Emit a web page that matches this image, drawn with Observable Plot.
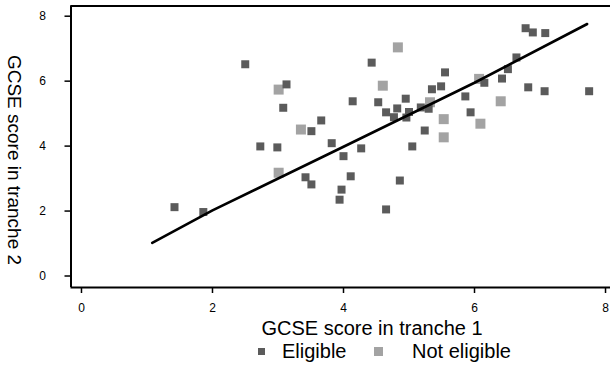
<!DOCTYPE html>
<html>
<head>
<meta charset="utf-8">
<script src="https://cdn.jsdelivr.net/npm/d3@7"></script>
<script src="https://cdn.jsdelivr.net/npm/@observablehq/plot@0.6"></script>
<style>
  html, body { margin: 0; padding: 0; background: #fff; }
  #chart { position: relative; width: 610px; height: 365px; font-family: "Liberation Sans", Arial, sans-serif; }
  #legend { position: relative; height: 27px; }
  #legend .sw { position: absolute; }
  #legend .lb { position: absolute; font-size: 20px; color: #000; line-height: 20px; }
</style>
</head>
<body>
<div id="chart"></div>
<script>
// ---- data ----
const xTicks = [0, 2, 4, 6, 8];
const yTicks = [0, 2, 4, 6, 8];
const xLabel = "GCSE score in tranche 1";
const yLabel = "GCSE score in tranche 2";
const categories = ["Eligible", "Not eligible"];

const eligibleX = [1.42, 1.86, 2.50, 2.73, 2.99, 3.13, 3.08, 3.42, 3.51, 3.51, 3.66, 3.82, 4.00, 3.97, 3.94, 4.11,
  4.14, 4.27, 4.43, 4.53, 4.65, 4.82, 4.95, 4.77, 5.00, 4.96, 5.18, 5.30, 5.35, 5.49, 5.55, 5.24, 5.05, 4.86,
  4.65, 5.86, 5.94, 6.15, 6.42, 6.51, 6.64, 6.82, 7.07, 7.75, 6.78, 6.89, 7.08];
const eligibleY = [2.12, 1.97, 6.52, 3.99, 3.96, 5.90, 5.18, 3.04, 2.82, 4.46, 4.79, 4.09, 3.69, 2.66, 2.35, 3.07,
  5.38, 3.93, 6.57, 5.35, 5.04, 5.16, 5.46, 4.89, 5.05, 4.88, 5.19, 5.15, 5.75, 5.84, 6.27, 4.48, 3.99, 2.94,
  2.05, 5.53, 5.04, 5.95, 6.08, 6.37, 6.73, 5.81, 5.69, 5.69, 7.63, 7.50, 7.48];

const notEligibleX = [3.01, 3.35, 3.01, 4.60, 4.83, 5.32, 5.53, 5.53, 6.07, 6.09, 6.40];
const notEligibleY = [5.74, 4.51, 3.18, 5.86, 7.04, 5.35, 4.83, 4.27, 6.07, 4.69, 5.38];

const fitX = [1.08, 2.00, 4.00, 6.00, 7.72];
const fitY = [1.02, 2.02, 3.98, 5.95, 7.76];

// ---- build ----
const colors = {"Eligible": "#5b5b5b", "Not eligible": "#a3a3a3"};
const eligible = eligibleX.map((x, i) => ({x, y: eligibleY[i]}));
const notEligible = notEligibleX.map((x, i) => ({x, y: notEligibleY[i]}));
const fit = fitX.map((x, i) => ({x, y: fitY[i]}));

const xDom = [-0.16, 8.076];
const yDom = [-0.354, 8.314];

const plot = Plot.plot({
  width: 610,
  height: 338,
  marginLeft: 70.5,
  marginRight: 0,
  marginTop: 5.5,
  marginBottom: 51,
  style: {fontFamily: "'Liberation Sans', Arial, sans-serif", fontSize: "12px", color: "#000", background: "#fff"},
  x: {domain: xDom},
  y: {domain: yDom},
  marks: [
    Plot.axisX(xTicks, {tickSize: 6, tickPadding: 10, label: null, fontSize: 12, strokeWidth: 1.5}),
    Plot.axisY(yTicks, {tickSize: 6, tickPadding: 19, label: null, fontSize: 12, strokeWidth: 1.5}),
    Plot.dot(notEligible, {x: "x", y: "y", symbol: "square", r: 5.64, fill: colors["Not eligible"], stroke: null}),
    Plot.dot(eligible, {x: "x", y: "y", symbol: "square", r: 4.51, fill: colors["Eligible"], stroke: null}),
    Plot.line(fit, {x: "x", y: "y", stroke: "#000", strokeWidth: 2.6}),
    Plot.ruleX([xDom[0]], {stroke: "#000", strokeWidth: 2}),
    Plot.ruleY([yDom[0], yDom[1]], {stroke: "#000", strokeWidth: 2})
  ]
});

const chart = document.getElementById("chart");
chart.appendChild(plot);

// axis titles
const svg = d3.select(plot);
svg.append("text")
  .attr("x", 372).attr("y", 335)
  .attr("text-anchor", "middle")
  .attr("font-size", 20)
  .attr("fill", "#000")
  .text(xLabel);
svg.append("text")
  .attr("transform", "translate(8,160) rotate(90)")
  .attr("text-anchor", "middle")
  .attr("font-size", 19)
  .attr("fill", "#000")
  .text(yLabel);

// legend below
const legend = document.createElement("div");
legend.id = "legend";
const swatchLeft = [258, 374];
const swatchSize = [7, 9];
const labelLeft = [282, 412];
categories.forEach((c, i) => {
  const sw = document.createElement("div");
  sw.className = "sw";
  sw.style.left = swatchLeft[i] + "px";
  sw.style.top = (13 - swatchSize[i] / 2) + "px";
  sw.style.width = swatchSize[i] + "px";
  sw.style.height = swatchSize[i] + "px";
  sw.style.background = colors[c];
  legend.appendChild(sw);
  const lb = document.createElement("div");
  lb.className = "lb";
  lb.style.left = labelLeft[i] + "px";
  lb.style.top = "3px";
  lb.textContent = c;
  legend.appendChild(lb);
});
chart.appendChild(legend);
</script>
</body>
</html>
